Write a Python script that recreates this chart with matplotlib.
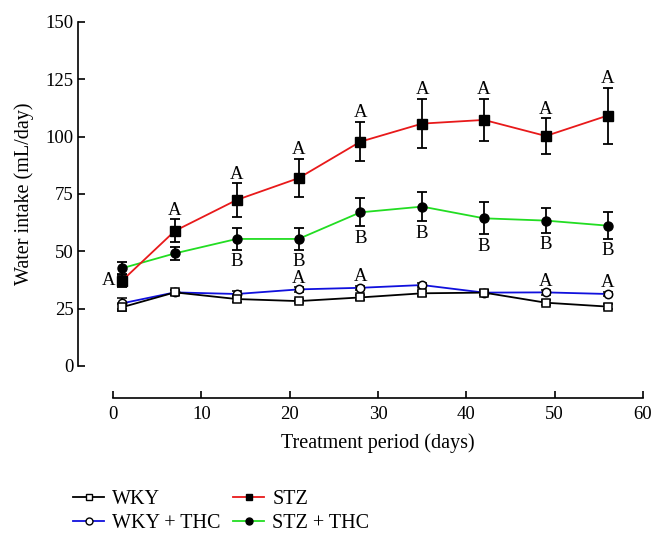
import matplotlib
matplotlib.use("Agg")
import matplotlib.pyplot as plt
from matplotlib.lines import Line2D

plt.rcParams['font.family'] = ['Liberation Serif', 'DejaVu Serif']

days = [1, 7, 14, 21, 28, 35, 42, 49, 56]

wky = [25.6, 32.1, 29.2, 28.3, 29.9, 31.7, 32.0, 27.6, 25.9]
wky_err = [1.5, 1.2, 1.2, 1.0, 1.2, 1.0, 1.0, 1.2, 1.0]
wky_thc = [27.3, 32.1, 31.4, 33.4, 34.1, 35.3, 32.0, 32.1, 31.4]
wky_thc_err = [2.5, 1.2, 1.5, 1.0, 1.0, 1.0, 1.0, 1.0, 1.0]
stz = [37.1, 58.9, 72.4, 81.9, 97.8, 105.7, 107.3, 100.3, 109.2]
stz_err = [2.5, 5.0, 7.3, 8.3, 8.6, 10.7, 9.1, 7.7, 12.2]
stz_thc = [42.6, 49.1, 55.4, 55.4, 67.0, 69.5, 64.4, 63.4, 61.2]
stz_thc_err = [2.6, 2.8, 4.8, 4.8, 6.1, 6.4, 7.0, 5.4, 5.8]

stz_letters = ['A'] * 9
stz_thc_letters = ['', '', 'B', 'B', 'B', 'B', 'B', 'B', 'B']
wky_thc_letters = ['', '', '', 'A', 'A', '', '', 'A', 'A']

fig = plt.figure(figsize=(6.62, 5.37), dpi=100)
ax = fig.add_axes([113/662, 1-366/537, 530/662, 344/537])

lw = 1.3
ebkw = dict(ecolor='black', elinewidth=1.3, capsize=3.5, capthick=1.3)

ax.errorbar(days, stz_thc, yerr=stz_thc_err, color='#22dd22', lw=lw, marker='o',
            mfc='black', mec='black', ms=6.5, zorder=3, **ebkw)
ax.errorbar(days, stz, yerr=stz_err, color='#e8191a', lw=lw, marker='s',
            mfc='black', mec='black', ms=6.5, zorder=4, **ebkw)
ax.errorbar(days, wky_thc, yerr=wky_thc_err, color='#1010dd', lw=lw, marker='o',
            mfc='white', mec='black', mew=1.1, ms=6, zorder=5, **ebkw)
ax.errorbar(days, wky, yerr=wky_err, color='black', lw=lw, marker='s',
            mfc='white', mec='black', mew=1.1, ms=6, zorder=6, **ebkw)

lfs = 13.5
for i, (d, v, e) in enumerate(zip(days, stz, stz_err)):
    if stz_letters[i]:
        if i == 0:
            ax.annotate(stz_letters[i], (d, v), xytext=(-5, 0), textcoords='offset points',
                        ha='right', va='center', fontsize=lfs)
        else:
            ax.annotate(stz_letters[i], (d, v + e), xytext=(0, 0.5), textcoords='offset points',
                        ha='center', va='bottom', fontsize=lfs)
for i, (d, v, e) in enumerate(zip(days, stz_thc, stz_thc_err)):
    if stz_thc_letters[i]:
        ax.annotate(stz_thc_letters[i], (d, v - e), xytext=(0, -2.5), textcoords='offset points',
                    ha='center', va='top', fontsize=lfs)
for i, (d, v, e) in enumerate(zip(days, wky_thc, wky_thc_err)):
    if wky_thc_letters[i]:
        ax.annotate(wky_thc_letters[i], (d, v), xytext=(0, 2), textcoords='offset points',
                    ha='center', va='bottom', fontsize=lfs)

ax.set_xlim(0, 60)
ax.set_ylim(0, 150)
ax.set_xticks(range(0, 61, 10))
ax.set_yticks(range(0, 151, 25))
for s in ['top', 'right']:
    ax.spines[s].set_visible(False)
ax.spines['left'].set_position(('outward', 25))
ax.spines['bottom'].set_position(('outward', 23))
for s in ['left', 'bottom']:
    ax.spines[s].set_linewidth(1.2)
ax.tick_params(direction='in', length=5, width=1.2, labelsize=13.5)
ax.tick_params(axis='x', pad=6)
ax.set_xlabel('Treatment period (days)', fontsize=14.5, labelpad=7)
ax.set_ylabel('Water intake (mL/day)', fontsize=14.5, labelpad=8)

handles = [
    Line2D([], [], color='black', lw=lw, marker='s', mfc='white', mec='black', ms=5),
    Line2D([], [], color='#1010dd', lw=lw, marker='o', mfc='white', mec='black', ms=5),
    Line2D([], [], color='#e8191a', lw=lw, marker='s', mfc='black', mec='black', ms=5),
    Line2D([], [], color='#22dd22', lw=lw, marker='o', mfc='black', mec='black', ms=5),
]
labels = ['WKY', 'WKY + THC', 'STZ', 'STZ + THC']
fig.legend(handles, labels, ncol=2, frameon=False, fontsize=14.5,
           loc='upper left', bbox_to_anchor=(55/662, 1-472/537),
           handlelength=1.55, handletextpad=0.4, columnspacing=0.6, labelspacing=0.25)

fig.savefig('out.png', dpi=100)
